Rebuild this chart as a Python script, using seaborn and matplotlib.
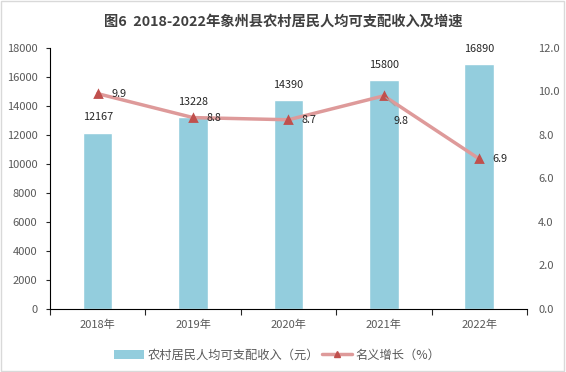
import numpy as np
import pandas as pd
import seaborn as sns
import matplotlib.pyplot as plt
from matplotlib.patches import Rectangle, Patch
from matplotlib.lines import Line2D

years = ['2018年', '2019年', '2020年', '2021年', '2022年']
income = [12167, 13228, 14390, 15800, 16890]
growth = [9.9, 8.8, 8.7, 9.8, 6.9]

df = pd.DataFrame({'year': years, 'income': income, 'growth': growth})

sns.set_style('white')
plt.rcParams['font.family'] = ['Noto Sans CJK SC', 'DejaVu Sans']

fig = plt.figure(figsize=(5.66, 3.72), dpi=100)
ax = fig.add_axes([0.0883, 0.1694, 0.8427, 0.7016])

bar_col = '#93CDDD'
line_col = '#DE9A9A'
mark_col = '#C0504D'
txt_col = '#595959'

sns.barplot(data=df, x='year', y='income', color=bar_col, width=0.31,
            saturation=1, ax=ax)
ax.set_ylim(0, 18000)
ax.set_xlim(-0.5, 4.5)
ax.set_yticks(np.arange(0, 18001, 2000))
ax.set_xlabel('')
ax.set_ylabel('')

for i, v in enumerate(income):
    ax.text(i, v + 700, str(v), ha='center', va='bottom', fontsize=7.8, color='#262626')

ax2 = ax.twinx()
sns.pointplot(data=df, x='year', y='growth', color=line_col, markers='', linewidth=2.5, ax=ax2)
sns.pointplot(data=df, x='year', y='growth', color=mark_col, markers='^', linestyles='none',
              markersize=5, ax=ax2)
ax2.set_ylim(0, 12)
ax2.set_xlim(-0.5, 4.5)
ax2.set_yticks(np.arange(0, 12.1, 2))
ax2.set_yticklabels([f'{t:.1f}' for t in np.arange(0, 12.1, 2)])
ax2.set_ylabel('')
ax2.set_xlabel('')

# 数据标签位置（2021 年的放在点的右下方）
offsets = [(0.14, 0.0), (0.14, 0.0), (0.14, 0.0), (0.1, -1.15), (0.14, 0.0)]
for i, v in enumerate(growth):
    dx, dy = offsets[i]
    ax2.text(i + dx, v + dy, f'{v:.1f}', ha='left', va='center', fontsize=7.8, color='#262626')
ax2.annotate('', xy=(3, 9.8), xytext=(3.14, 9.25),
             arrowprops=dict(arrowstyle='-', color='#A6A6A6', lw=0.8))

for a in (ax, ax2):
    for s in ['top', 'right']:
        a.spines[s].set_visible(False)
ax2.spines['left'].set_visible(False)
ax2.spines['bottom'].set_visible(False)
ax.spines['left'].set_color('black')
ax.spines['bottom'].set_color('black')
ax.spines['left'].set_linewidth(0.8)
ax.spines['bottom'].set_linewidth(0.8)

ax.tick_params(axis='y', left=True, length=3, width=0.8, labelsize=8, labelcolor=txt_col, pad=6)
ax.tick_params(axis='x', which='major', length=0, labelsize=8, labelcolor=txt_col, pad=8)
ax.set_xticks(np.arange(-0.5, 4.6, 1), minor=True)
ax.tick_params(axis='x', which='minor', bottom=True, length=4, width=0.8, direction='out')
ax2.tick_params(axis='y', right=False, length=0, labelsize=8, labelcolor=txt_col, pad=8)

fig.suptitle('图6  2018-2022年象州县农村居民人均可支配收入及增速', y=0.96,
             fontsize=10.3, fontweight='bold', color='#404040')

bh = Patch(facecolor=bar_col, edgecolor='none')
lh = Line2D([], [], color=line_col, linewidth=2.5, marker='^', markersize=5,
            markerfacecolor=mark_col, markeredgecolor=mark_col)
leg = fig.legend([bh, lh], ['农村居民人均可支配收入（元）', '名义增长（%）'], loc='center',
                 bbox_to_anchor=(0.49, 0.045), ncol=2, frameon=False, fontsize=8.8,
                 handlelength=2.4, handleheight=0.7, columnspacing=0.3, handletextpad=0.3)
for t in leg.get_texts():
    t.set_color(txt_col)

fig.patches.append(Rectangle((0.002, 0.003), 0.995, 0.994, transform=fig.transFigure,
                             fill=False, edgecolor='#D9D9D9', linewidth=1))

fig.savefig('out.png', dpi=100)
